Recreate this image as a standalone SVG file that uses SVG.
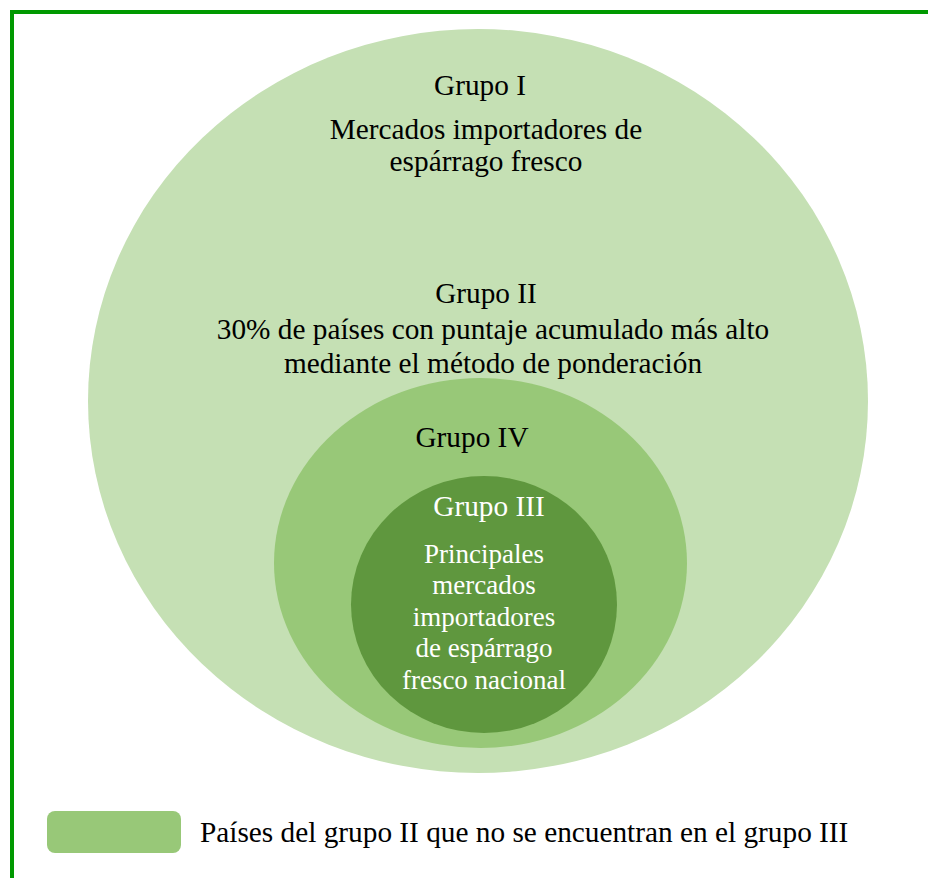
<svg xmlns="http://www.w3.org/2000/svg" width="928" height="878" viewBox="0 0 928 878">
<style>
text{font-family:"Liberation Serif","Times New Roman",serif;font-size:29.3px;fill:#000;text-anchor:middle}
.w{fill:#fff}
.s{font-size:27px}
</style>
<rect width="928" height="878" fill="#fff"/>
<path d="M12,880 V12 H930" fill="none" stroke="#009900" stroke-width="4"/>
<g id="grupo1">
<ellipse cx="478" cy="401" rx="390" ry="372" fill="#c5e0b4"/>
<text x="480" y="95">Grupo I</text>
<text x="486" y="139">Mercados importadores de</text>
<text x="486" y="171">espárrago fresco</text>
</g>
<g id="grupo2">
<text x="486" y="303">Grupo II</text>
<text x="493" y="339">30% de países con puntaje acumulado más alto</text>
<text x="493" y="373">mediante el método de ponderación</text>
</g>
<g id="grupo4">
<ellipse cx="480.5" cy="563" rx="206.5" ry="185" fill="#98c878"/>
<text x="472" y="447">Grupo IV</text>
</g>
<g id="grupo3">
<ellipse cx="484" cy="604.5" rx="133" ry="128.5" fill="#5f973e"/>
<text class="w" x="489" y="516">Grupo III</text>
<text class="w s" x="484" y="563">Principales</text>
<text class="w s" x="484" y="594">mercados</text>
<text class="w s" x="484" y="626">importadores</text>
<text class="w s" x="484" y="657">de espárrago</text>
<text class="w s" x="484" y="689">fresco nacional</text>
</g>
<g id="legend">
<rect x="47" y="811" width="134" height="42" rx="8" fill="#98c878"/>
<text x="200" y="842" style="text-anchor:start">Países del grupo II que no se encuentran en el grupo III</text>
</g>
<g id="connectors"></g>
</svg>
